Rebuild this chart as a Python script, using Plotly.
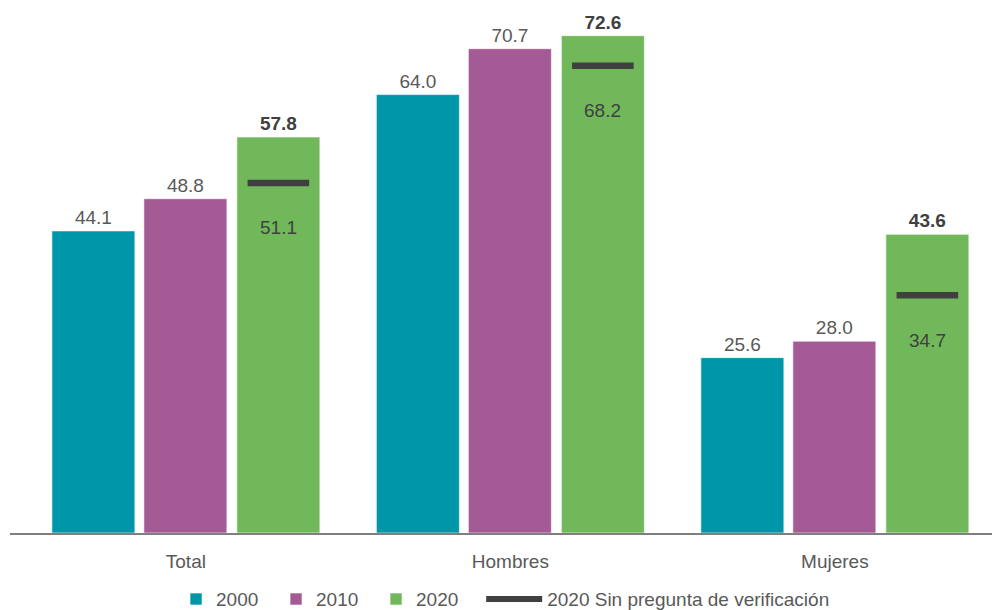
import plotly.graph_objects as go

categories = ["Total", "Hombres", "Mujeres"]
years = ["2000", "2010", "2020"]
v2000 = [44.1, 64.0, 25.6]
v2010 = [48.8, 70.7, 28.0]
v2020 = [57.8, 72.6, 43.6]
v2020_sin = [51.1, 68.2, 34.7]
sin_label = "2020 Sin pregunta de verificación"

colors = ["#0096A9", "#A45A95", "#71B85A"]
line_color = "#404040"
label_color = "#595959"
FONT = "Liberation Sans, Arial, sans-serif"
FS = 19

xi = list(range(len(categories)))
bar_w = 0.2558
offsets = [-0.4129, -0.1294, 0.1572]

fig = go.Figure()
for name, vals, col, off in zip(years, [v2000, v2010, v2020], colors, offsets):
    bold = name == "2020"
    fig.add_trace(go.Bar(
        x=xi, y=vals, name=name, width=bar_w, offset=off,
        marker=dict(color=col, line=dict(color="rgba(255,255,255,0.6)", width=1)),
        text=[f"{v:.1f}" for v in vals], textposition="outside",
        textfont=dict(family=FONT, size=FS, color=line_color if bold else label_color,
                      weight="bold" if bold else "normal"),
        cliponaxis=False, legend="legend",
    ))

x_sin = [i + offsets[2] + bar_w / 2 for i in xi]
fig.add_trace(go.Scatter(
    x=x_sin, y=v2020_sin, mode="markers", showlegend=False,
    marker=dict(symbol="line-ew", size=44, line=dict(color=line_color, width=6.5)),
    hoverinfo="skip",
))
fig.add_trace(go.Scatter(
    x=[None], y=[None], mode="lines", name=sin_label, legend="legend2",
    line=dict(color=line_color, width=6),
))

for xv, v in zip(x_sin, v2020_sin):
    fig.add_annotation(x=xv, y=v, text=f"{v:.1f}", showarrow=False,
                       yanchor="middle", yshift=-45,
                       font=dict(family=FONT, size=FS, color=line_color))

legend_common = dict(orientation="h", xref="container", yref="container",
                     y=0.018, yanchor="middle", xanchor="left",
                     bgcolor="rgba(0,0,0,0)",
                     font=dict(family=FONT, size=FS, color=label_color))

fig.update_layout(
    width=992, height=602,
    margin=dict(l=2, r=0, t=0, b=77, autoexpand=False),
    paper_bgcolor="white", plot_bgcolor="white",
    barmode="overlay",
    font=dict(family=FONT, size=FS, color=label_color),
    xaxis=dict(tickvals=xi, ticktext=categories, range=[-0.542, 2.509],
               showgrid=False, zeroline=False, showline=True,
               linecolor="#7f7f7f", linewidth=1.5, ticks="",
               ticklabelstandoff=10,
               tickfont=dict(family=FONT, size=FS, color=label_color)),
    yaxis=dict(range=[0, 76.64], visible=False),
    legend=dict(**legend_common, x=0.1694, entrywidth=55, entrywidthmode="pixels",
                traceorder="normal"),
    legend2=dict(**legend_common, x=0.477, itemwidth=56),
    showlegend=True,
)

fig.write_html("out.html")
